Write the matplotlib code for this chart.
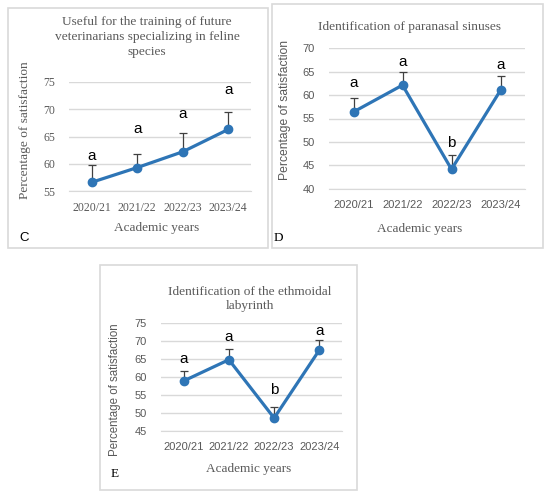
import numpy as np
import matplotlib
matplotlib.use("Agg")
import matplotlib.pyplot as plt
from matplotlib.patches import Rectangle

years = ["2020/21", "2021/22", "2022/23", "2023/24"]

# panel C
c_mean = [56.6, 59.3, 62.2, 66.3]
c_err = [3.1, 2.5, 3.4, 3.2]
c_letters = ["a", "a", "a", "a"]

# panel D
d_mean = [56.4, 62.1, 44.2, 61.0]
d_err = [3.0, 2.8, 3.0, 3.1]
d_letters = ["a", "a", "b", "a"]

# panel E
e_mean = [58.9, 64.8, 48.6, 67.5]
e_err = [2.9, 3.1, 3.1, 2.9]
e_letters = ["a", "a", "b", "a"]

W, H = 550, 497
BLUE = "#2E75B6"
GRAY = "#595959"
GRID = "#D9D9D9"
SERIF = "Liberation Serif"
SANS = "Liberation Sans"

fig = plt.figure(figsize=(W / 100, H / 100), dpi=100)
fig.patch.set_facecolor("white")


def fx(px):
    return px / W


def fy(py):
    return 1 - py / H


def box(x0, y0, x1, y1):
    fig.patches.append(Rectangle((fx(x0), fy(y1)), fx(x1) - fx(x0), fy(y0) - fy(y1),
                                 transform=fig.transFigure, fill=False,
                                 edgecolor=GRID, linewidth=1.2))


def panel(area, ylim, step, mean, err, letters, offs, tickfont, tfs):
    x0, top, x1, bottom = area
    ax = fig.add_axes([fx(x0), fy(bottom), fx(x1) - fx(x0), fy(top) - fy(bottom)])
    x = np.arange(len(years))
    ax.errorbar(x, mean, yerr=[np.zeros(len(err)), err], fmt="none",
                ecolor="#404040", elinewidth=0.9, capsize=3, capthick=0.9, zorder=2)
    ax.plot(x, mean, color=BLUE, lw=2.3, marker="o", ms=6, zorder=3)
    ax.set_xlim(-0.5, len(years) - 0.5)
    ax.set_ylim(*ylim)
    ax.set_yticks(np.arange(ylim[0], ylim[1] + 0.1, step))
    ax.set_xticks(x)
    ax.set_xticklabels(years)
    ax.grid(axis="y", color=GRID, lw=1)
    ax.set_axisbelow(True)
    for s in ["top", "right", "left"]:
        ax.spines[s].set_visible(False)
    ax.spines["bottom"].set_color(GRID)
    ax.tick_params(length=0, colors=GRAY, labelsize=tfs, pad=8)
    for lab in ax.get_xticklabels() + ax.get_yticklabels():
        lab.set_family(tickfont)
    ax.tick_params(axis="y", pad=10)
    for xi, m, e, l, o in zip(x, mean, err, letters, offs):
        ax.annotate(l, (xi, m + e), xytext=(0, o), textcoords="offset points",
                    ha="center", va="center", fontsize=11, family=SANS, color="black")
    return ax


# boxes
box(8, 8, 268, 248)
box(272, 4, 543, 248)
box(100, 265, 357, 490)

# C
panel((69, 82, 251, 191), (55, 75), 5, c_mean, c_err, c_letters,
      [7, 18, 14, 16], SERIF, 8.5)
fig.text(fx(147), fy(37), "Useful for the training of future\nveterinarians specializing in feline\nspecies",
         ha="center", va="center", family=SERIF, fontsize=9.6, color=GRAY, linespacing=1.3)
fig.text(fx(25), fy(130), "Percentage of satisfaction", rotation=90, ha="center", va="center",
         family=SERIF, fontsize=9.6, color=GRAY)
fig.text(fx(157), fy(228), "Academic years", ha="center", va="center",
         family=SERIF, fontsize=9.5, color=GRAY)
fig.text(fx(24), fy(238), "C", ha="center", va="center", family=SANS, fontsize=9.5, color="black")

# D
panel((329, 48, 525, 189), (40, 70), 5, d_mean, d_err, d_letters,
      [11, 7, 9, 8], SANS, 8)
fig.text(fx(410), fy(27), "Identification of paranasal sinuses", ha="center", va="center",
         family=SERIF, fontsize=9.6, color=GRAY)
fig.text(fx(285), fy(110), "Percentage of satisfaction", rotation=90, ha="center", va="center",
         family=SANS, fontsize=8.7, color=GRAY)
fig.text(fx(420), fy(229), "Academic years", ha="center", va="center",
         family=SERIF, fontsize=9.5, color=GRAY)
fig.text(fx(278), fy(238), "D", ha="center", va="center", family=SERIF, fontsize=9.5, color="black")

# E
panel((161, 323, 342, 431), (45, 75), 5, e_mean, e_err, e_letters,
      [8, 8, 12, 6], SANS, 8)
fig.text(fx(250), fy(299), "Identification of the ethmoidal\nlabyrinth", ha="center", va="center",
         family=SERIF, fontsize=9.6, color=GRAY, linespacing=1.3)
fig.text(fx(115), fy(390), "Percentage of satisfaction", rotation=90, ha="center", va="center",
         family=SANS, fontsize=8.3, color=GRAY)
fig.text(fx(249), fy(469), "Academic years", ha="center", va="center",
         family=SERIF, fontsize=9.5, color=GRAY)
fig.text(fx(115), fy(474), "E", ha="center", va="center", family=SERIF, fontsize=9.5, color="black")

fig.savefig("out.png", dpi=100)
